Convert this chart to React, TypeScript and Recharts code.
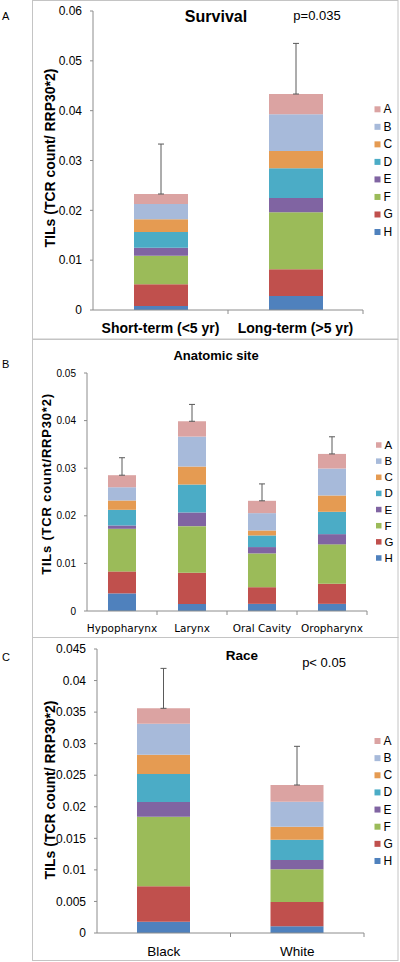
import React from 'react';
import { BarChart, Bar, XAxis, YAxis, ErrorBar } from 'recharts';

// ---------- shared series ----------
const seriesNames = ['A', 'B', 'C', 'D', 'E', 'F', 'G', 'H'];
const seriesColors = ['#DBA3A2', '#A7BADA', '#E59B52', '#4BACC6', '#8064A2', '#9BBB59', '#C0504D', '#4F81BD'];

// ---------- Panel A: Survival ----------
const survivalCategories = ['Short-term (<5 yr)', 'Long-term (>5 yr)'];
const survivalA = [0.00201, 0.00408];
const survivalB = [0.00307, 0.00736];
const survivalC = [0.00255, 0.00347];
const survivalD = [0.00315, 0.00596];
const survivalE = [0.0016, 0.00287];
const survivalF = [0.00575, 0.01144];
const survivalG = [0.00435, 0.00536];
const survivalH = [0.0008, 0.0028];
const survivalErr = [0.01002, 0.01016];
const survivalTicks = [0, 0.01, 0.02, 0.03, 0.04, 0.05, 0.06];

// ---------- Panel B: Anatomic site ----------
const siteCategories = ['Hypopharynx', 'Larynx', 'Oral Cavity', 'Oropharynx'];
const siteA = [0.00253, 0.00322, 0.00259, 0.00307];
const siteB = [0.00278, 0.00629, 0.00364, 0.00566];
const siteC = [0.00196, 0.00378, 0.00105, 0.00343];
const siteD = [0.00329, 0.00587, 0.00244, 0.00469];
const siteE = [0.0007, 0.00287, 0.00133, 0.00215];
const siteF = [0.00895, 0.00979, 0.0071, 0.00827];
const siteG = [0.00462, 0.00657, 0.0035, 0.00423];
const siteH = [0.0037, 0.00147, 0.0015, 0.0015];
const siteErr = [0.00367, 0.00354, 0.00355, 0.0036];
const siteTicks = [0, 0.01, 0.02, 0.03, 0.04, 0.05];

// ---------- Panel C: Race ----------
const raceCategories = ['Black', 'White'];
const raceA = [0.00243, 0.00264];
const raceB = [0.00491, 0.00396];
const raceC = [0.00307, 0.00206];
const raceD = [0.00443, 0.00322];
const raceE = [0.00233, 0.00148];
const raceF = [0.01104, 0.00518];
const raceG = [0.00559, 0.00385];
const raceH = [0.0018, 0.00106];
const raceErr = [0.00633, 0.00613];
const raceTicks = [0, 0.005, 0.01, 0.015, 0.02, 0.025, 0.03, 0.035, 0.04, 0.045];

const AXIS = '#8C8C8C';
const FRAME = '#C4C4C4';
const SANS = 'Liberation Sans, Arial, sans-serif';
const NARROW = 'Liberation Sans Narrow, Liberation Sans, Arial, sans-serif';
const VERD = 'DejaVu Sans, Verdana, sans-serif';

function buildRows(categories: string[], series: number[][], errors: number[]) {
  return categories.map((name, i) => {
    const row: any = { name, err: [0, errors[i]] };
    seriesNames.forEach((s, k) => {
      row[s] = series[k][i];
    });
    return row;
  });
}

const survivalData = buildRows(
  survivalCategories,
  [survivalA, survivalB, survivalC, survivalD, survivalE, survivalF, survivalG, survivalH],
  survivalErr
);
const siteData = buildRows(
  siteCategories,
  [siteA, siteB, siteC, siteD, siteE, siteF, siteG, siteH],
  siteErr
);
const raceData = buildRows(
  raceCategories,
  [raceA, raceB, raceC, raceD, raceE, raceF, raceG, raceH],
  raceErr
);

type PanelCfg = {
  data: any[];
  top: number;
  height: number;
  margin: { top: number; right: number; left: number; bottom: number };
  yWidth: number;
  xHeight: number;
  ticks: number[];
  barSize: number;
  tickFont: number;
  catFamily: string;
  catSize: number;
  catWeight: string;
  catDy: number;
};

function Panel({ cfg }: { cfg: PanelCfg }) {
  const W = 400;
  const plotW = W - cfg.margin.left - cfg.margin.right - cfg.yWidth;
  const band = plotW / cfg.data.length;
  const XTick = (props: any) => {
    const { x, y, payload } = props;
    return (
      <g>
        <text
          x={x}
          y={y + cfg.catDy}
          textAnchor="middle"
          dominantBaseline="central"
          fontFamily={cfg.catFamily}
          fontSize={cfg.catSize}
          fontWeight={cfg.catWeight}
          fill="#000"
        >
          {payload.value}
        </text>
        <line x1={x + band / 2} x2={x + band / 2} y1={y} y2={y + 4} stroke={AXIS} />
      </g>
    );
  };
  const order = [...seriesNames].reverse();
  return (
    <div style={{ position: 'absolute', left: 0, top: cfg.top }}>
      <BarChart width={W} height={cfg.height} data={cfg.data} margin={cfg.margin}>
        <XAxis
          dataKey="name"
          type="category"
          height={cfg.xHeight}
          tickLine={false}
          tickSize={0}
          tickMargin={0}
          interval={0}
          axisLine={{ stroke: AXIS }}
          tick={XTick}
        />
        <YAxis
          type="number"
          domain={[0, cfg.ticks[cfg.ticks.length - 1]]}
          ticks={cfg.ticks}
          interval={0}
          width={cfg.yWidth}
          tickSize={3}
          tickMargin={8}
          axisLine={{ stroke: AXIS }}
          tickLine={{ stroke: AXIS }}
          tick={{ fontFamily: SANS, fontSize: cfg.tickFont, fill: '#000' }}
        />
        {order.map((s) => {
          const color = seriesColors[seriesNames.indexOf(s)];
          return (
            <Bar key={s} dataKey={s} stackId="stack" fill={color} barSize={cfg.barSize} isAnimationActive={false}>
              {s === 'A' ? (
                <ErrorBar dataKey="err" direction="y" width={3} stroke="#5A5A5A" strokeWidth={1} />
              ) : null}
            </Bar>
          );
        })}
      </BarChart>
    </div>
  );
}

function Legend({ x, y0, step, size, box }: { x: number; y0: number; step: number; size: number; box: number }) {
  return (
    <g>
      {seriesNames.map((s, i) => (
        <g key={s}>
          <rect x={x} y={y0 + i * step - box / 2} width={box} height={box} fill={seriesColors[i]} />
          <text
            x={x + box + 3}
            y={y0 + i * step}
            dominantBaseline="central"
            fontFamily={SANS}
            fontSize={size}
            fill="#000"
          >
            {s}
          </text>
        </g>
      ))}
    </g>
  );
}

export default function App() {
  const panelA: PanelCfg = {
    data: survivalData,
    top: 0,
    height: 339,
    margin: { top: 11, right: 37, left: 0, bottom: 0 },
    yWidth: 93,
    xHeight: 29,
    ticks: survivalTicks,
    barSize: 54,
    tickFont: 12,
    catFamily: SANS,
    catSize: 14,
    catWeight: 'bold',
    catDy: 18,
  };
  const panelB: PanelCfg = {
    data: siteData,
    top: 339,
    height: 298,
    margin: { top: 34, right: 33, left: 0, bottom: 0 },
    yWidth: 87,
    xHeight: 26,
    ticks: siteTicks,
    barSize: 28,
    tickFont: 10,
    catFamily: VERD,
    catSize: 10.5,
    catWeight: 'normal',
    catDy: 17,
  };
  const panelC: PanelCfg = {
    data: raceData,
    top: 637,
    height: 325,
    margin: { top: 12, right: 36, left: 0, bottom: 0 },
    yWidth: 97,
    xHeight: 29,
    ticks: raceTicks,
    barSize: 53,
    tickFont: 12,
    catFamily: SANS,
    catSize: 13.5,
    catWeight: 'normal',
    catDy: 18,
  };
  return (
    <div style={{ position: 'absolute', left: 0, top: 0, width: 400, height: 962, background: '#fff' }}>
      <Panel cfg={panelA} />
      <Panel cfg={panelB} />
      <Panel cfg={panelC} />
      <svg
        width={400}
        height={962}
        style={{ position: 'absolute', left: 0, top: 0, pointerEvents: 'none' }}
      >
        {/* frames */}
        <rect x={32.5} y={0.5} width={365.5} height={338.5} fill="none" stroke={FRAME} />
        <rect x={32.5} y={339.5} width={365.5} height={298} fill="none" stroke={FRAME} />
        <rect x={32.5} y={637.5} width={365.5} height={323} fill="none" stroke={FRAME} />

        {/* panel letters */}
        <text x={2} y={15.5} dominantBaseline="central" fontFamily={SANS} fontSize={11} fill="#000">A</text>
        <text x={2} y={363.5} dominantBaseline="central" fontFamily={SANS} fontSize={11} fill="#000">B</text>
        <text x={2} y={657} dominantBaseline="central" fontFamily={SANS} fontSize={11} fill="#000">C</text>

        {/* titles */}
        <text x={216} y={16} textAnchor="middle" dominantBaseline="central" fontFamily={SANS} fontSize={16} fontWeight="bold" fill="#000">Survival</text>
        <text x={216} y={355} textAnchor="middle" dominantBaseline="central" fontFamily={SANS} fontSize={13} fontWeight="bold" fill="#000">Anatomic site</text>
        <text x={242} y={655} textAnchor="middle" dominantBaseline="central" fontFamily={SANS} fontSize={13.5} fontWeight="bold" fill="#000">Race</text>

        {/* p-values */}
        <text x={317} y={15} textAnchor="middle" dominantBaseline="central" fontFamily={NARROW} fontSize={13} fill="#000">p=0.035</text>
        <text x={324} y={662} textAnchor="middle" dominantBaseline="central" fontFamily={NARROW} fontSize={13} fill="#000">p&lt; 0.05</text>

        {/* y-axis titles */}
        <text x={50} y={158} transform="rotate(-90 50 158)" textAnchor="middle" dominantBaseline="central" fontFamily={SANS} fontSize={14} fontWeight="bold" fill="#000">TILs (TCR count/ RRP30*2)</text>
        <text x={46} y={484} transform="rotate(-90 46 484)" textAnchor="middle" dominantBaseline="central" fontFamily={SANS} fontSize={13} fontWeight="bold" letterSpacing={0.8} fill="#000">TILs (TCR count/RRP30*2)</text>
        <text x={50} y={790} transform="rotate(-90 50 790)" textAnchor="middle" dominantBaseline="central" fontFamily={SANS} fontSize={14} fontWeight="bold" fill="#000">TILs (TCR count/ RRP30*2)</text>

        {/* legends */}
        <Legend x={374.5} y0={109.3} step={17.53} size={12} box={6} />
        <Legend x={376} y0={445} step={16.14} size={11.5} box={5.5} />
        <Legend x={374.5} y0={741} step={17.14} size={12} box={6} />
      </svg>
    </div>
  );
}
